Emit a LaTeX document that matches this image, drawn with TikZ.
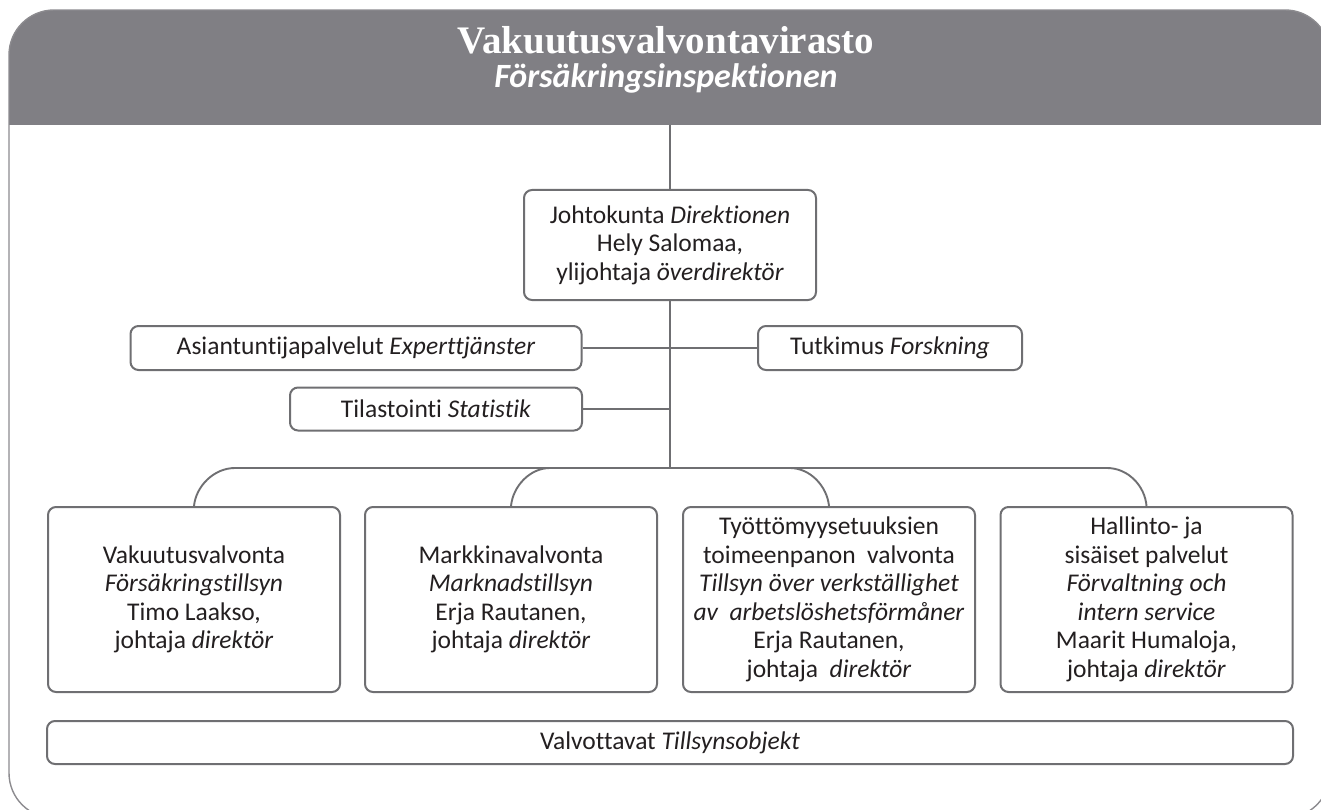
\documentclass[tikz,border=0pt]{standalone}
\usepackage{fontspec}
\setmainfont{Carlito}[Ligatures={NoCommon}]
\newfontfamily\titleserif{Liberation Serif}
\definecolor{hdr}{HTML}{807F84}
\definecolor{ln}{HTML}{6F6F72}
\definecolor{frm}{HTML}{8C8B8F}
\definecolor{txt}{HTML}{231F20}
\begin{document}
\begin{tikzpicture}[x=1pt,y=-1pt,
  box/.style={draw=ln, line width=2pt, rounded corners=8pt, fill=white, align=center,
    text=txt, font=\fontsize{25.5}{28.5}\selectfont, inner sep=0pt},
  conn/.style={draw=ln, line width=1.9pt}]
\useasboundingbox (0,0) rectangle (1321,810);
\begin{scope}
  \clip[rounded corners=45pt] (9,10) rectangle (1330,818);
  \fill[hdr] (9,10) rectangle (1330,125);
\end{scope}
\draw[draw=frm, line width=1.4pt, rounded corners=45pt] (9,10) rectangle (1330,818);

\node[anchor=base, text=white, font=\titleserif\bfseries\fontsize{39}{39}\selectfont] (title) at (666,54) {Vakuutusvalvontavirasto};
\node[anchor=base, text=white, font=\bfseries\itshape\fontsize{34}{34}\selectfont] (sub) at (666,88) {Försäkringsinspektionen};

\coordinate (top) at (670,125);
\coordinate (bus) at (670,468);
\coordinate (busL) at (235,468);
\coordinate (busR) at (1107,468);
\coordinate (bus2) at (550,468);
\coordinate (bus3) at (790,468);

\draw[conn] (top) -- (bus);

\node[box, minimum width=292pt, minimum height=110pt] (jk) at (670,245)
  {Johtokunta \textit{Direktionen}\\Hely Salomaa,\\ylijohtaja \textit{överdirektör}};
\node[box, minimum width=451pt, minimum height=44pt] (asian) at (356,348)
  {Asiantuntijapalvelut \textit{Experttjänster}};
\node[box, minimum width=264pt, minimum height=44pt] (tutk) at (890,348)
  {Tutkimus \textit{Forskning}};
\node[box, minimum width=292pt, minimum height=43pt] (tilas) at (436,409)
  {Tilastointi \textit{Statistik}};

\draw[conn] (asian.east) -- (asian.east -| bus);
\draw[conn] (tutk.west) -- (tutk.west -| bus);
\draw[conn] (tilas.east) -- (tilas.east -| bus);

\node[box, minimum width=292pt, minimum height=185pt] (b1) at (194,599.5)
  {Vakuutusvalvonta\\\textit{Försäkringstillsyn}\\Timo Laakso,\\johtaja \textit{direktör}};
\node[box, minimum width=292pt, minimum height=185pt] (b2) at (511,599.5)
  {Markkinavalvonta\\\textit{Marknadstillsyn}\\Erja Rautanen,\\johtaja \textit{direktör}};
\node[box, minimum width=292pt, minimum height=185pt] (b3) at (829,599.5)
  {Työttömyysetuuksien\\toimeenpanon\ \ valvonta\\\textit{Tillsyn över verkställighet}\\\textit{av\ \ arbetslöshetsförmåner}\\Erja Rautanen,\\johtaja\ \ \textit{direktör}};
\node[box, minimum width=292pt, minimum height=185pt] (b4) at (1146.5,599.5)
  {Hallinto- ja\\sisäiset palvelut\\\textit{Förvaltning och}\\\textit{intern service}\\Maarit Humaloja,\\johtaja \textit{direktör}};

\draw[conn] (b1.north) .. controls (196,486) and (214,468) .. (busL) -- (busR)
  .. controls (1128,468) and (1145,486) .. (b4.north);
\draw[conn] (b2.north) .. controls (513,486) and (530,468) .. (bus2);
\draw[conn] (bus3) .. controls (810,468) and (827,486) .. (b3.north);

\node[box, minimum width=1246pt, minimum height=43pt] (valv) at (670,742.5)
  {Valvottavat \textit{Tillsynsobjekt}};
\end{tikzpicture}
\end{document}
